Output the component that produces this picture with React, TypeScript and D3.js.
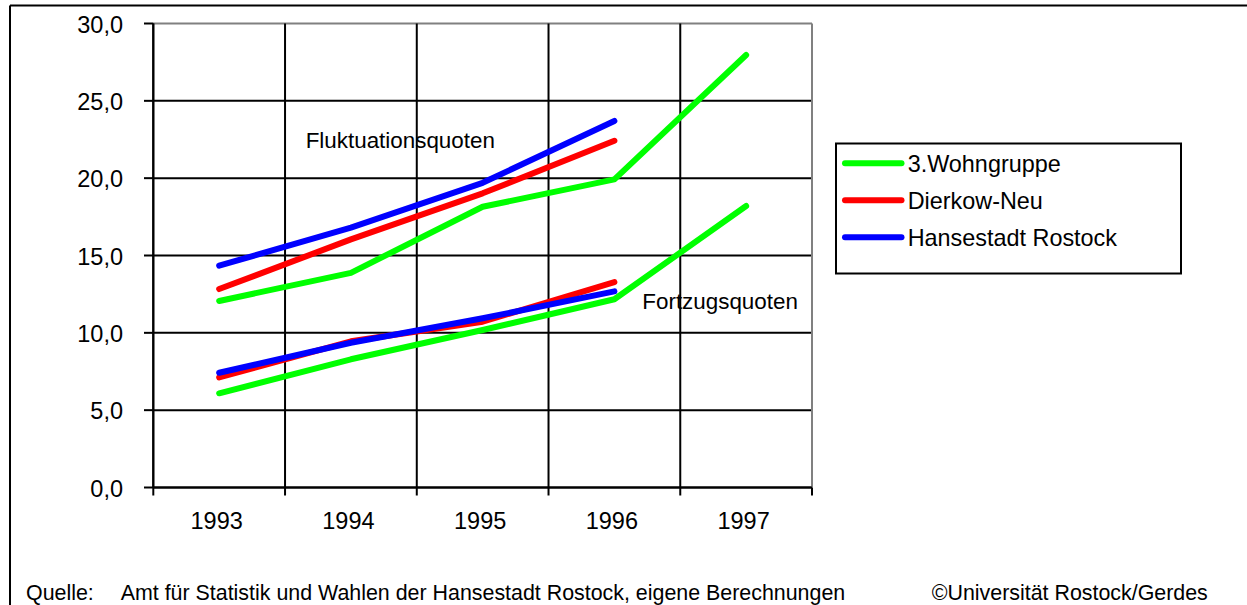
import React from "react";
import * as d3 from "d3";

const years = ["1993", "1994", "1995", "1996", "1997"];
const yTicks = [0, 5, 10, 15, 20, 25, 30];

const seriesNames = ["3.Wohngruppe", "Dierkow-Neu", "Hansestadt Rostock"];
const seriesColors = ["#00FF00", "#FF0000", "#0000FF"];

// Fluktuationsquoten
const fluktWohngruppe = [12.06, 13.88, 18.15, 19.92, 27.96];
const fluktDierkow = [12.83, 16.04, 19.02, 22.42];
const fluktRostock = [14.34, 16.8, 19.7, 23.7];

// Fortzugsquoten
const fortWohngruppe = [6.09, 8.29, 10.18, 12.17, 18.2];
const fortDierkow = [7.12, 9.45, 10.72, 13.28];
const fortRostock = [7.42, 9.36, 10.94, 12.68];

const FONT = "'Liberation Sans', Arial, sans-serif";

export default function App() {
  const left = 153.3;
  const right = 812;
  const top = 23.5;
  const bottom = 487.5;

  const x = d3.scaleBand<string>().domain(years).range([left, right]).padding(0);
  const y = d3.scaleLinear().domain([0, 30]).range([bottom, top]);
  const cx = (i: number) => (x(years[i]) as number) + x.bandwidth() / 2;

  const line = d3
    .line<number>()
    .x((_, i) => cx(i))
    .y((d) => y(d));

  const lines: { data: number[]; color: string }[] = [
    { data: fluktWohngruppe, color: seriesColors[0] },
    { data: fortWohngruppe, color: seriesColors[0] },
    { data: fluktDierkow, color: seriesColors[1] },
    { data: fortDierkow, color: seriesColors[1] },
    { data: fluktRostock, color: seriesColors[2] },
    { data: fortRostock, color: seriesColors[2] },
  ];

  const boundaries = years.map((yr) => x(yr) as number).concat([right]);

  return (
    <svg
      width={1247}
      height={605}
      style={{ position: "absolute", left: 0, top: 0, background: "#fff" }}
      fontFamily={FONT}
    >
      <rect x={0} y={0} width={1247} height={605} fill="#fff" />
      {/* outer frame */}
      <line x1={10} y1={5.5} x2={1247} y2={5.5} stroke="#000" strokeWidth={2} />
      <line x1={10} y1={5.5} x2={10} y2={605} stroke="#000" strokeWidth={2} />

      {/* horizontal grid */}
      {yTicks.map((t) => (
        <line
          key={"h" + t}
          x1={left}
          x2={right}
          y1={y(t)}
          y2={y(t)}
          stroke={t === 30 ? "#808080" : "#000"}
          strokeWidth={2}
        />
      ))}
      {/* vertical grid */}
      {boundaries.map((b, i) => (
        <line
          key={"v" + i}
          x1={b}
          x2={b}
          y1={top}
          y2={bottom}
          stroke={i === boundaries.length - 1 ? "#808080" : "#000"}
          strokeWidth={2}
        />
      ))}
      {/* axes */}
      <line x1={left} x2={left} y1={top} y2={bottom} stroke="#000" strokeWidth={2} />
      <line x1={left} x2={right} y1={bottom} y2={bottom} stroke="#000" strokeWidth={2} />
      {yTicks.map((t) => (
        <g key={"yt" + t}>
          <line x1={144} x2={left} y1={y(t)} y2={y(t)} stroke="#000" strokeWidth={2} />
          <text x={123} y={y(t) + 9} textAnchor="end" fontSize={23.5} fill="#000">
            {t.toFixed(1).replace(".", ",")}
          </text>
        </g>
      ))}
      {boundaries.map((b, i) => (
        <line key={"xt" + i} x1={b} x2={b} y1={bottom} y2={bottom + 8} stroke="#000" strokeWidth={2} />
      ))}
      {years.map((yr, i) => (
        <text key={"xl" + yr} x={cx(i) - 2.5} y={529} textAnchor="middle" fontSize={23.5} fill="#000">
          {yr}
        </text>
      ))}

      {/* series */}
      {lines.map((l, i) => (
        <path
          key={"s" + i}
          d={line(l.data) || ""}
          fill="none"
          stroke={l.color}
          strokeWidth={6}
          strokeLinecap="round"
          strokeLinejoin="round"
        />
      ))}

      {/* annotations */}
      <text x={305.7} y={147.5} fontSize={22.4} fill="#000">
        Fluktuationsquoten
      </text>
      <text x={642.3} y={309} fontSize={22.4} fill="#000">
        Fortzugsquoten
      </text>

      {/* legend */}
      <rect x={836} y={143.5} width={345} height={130} fill="#fff" stroke="#000" strokeWidth={2} />
      {seriesNames.map((n, i) => (
        <g key={"lg" + n}>
          <line
            x1={845}
            x2={901.5}
            y1={163.3 + i * 37}
            y2={163.3 + i * 37}
            stroke={seriesColors[i]}
            strokeWidth={6}
            strokeLinecap="round"
          />
          <text x={907.7} y={171.8 + i * 37} fontSize={23.4} fill="#000">
            {n}
          </text>
        </g>
      ))}

      {/* footer */}
      <text x={26} y={600} fontSize={21.4} fill="#000">
        Quelle:
      </text>
      <text x={120.7} y={600} fontSize={21.4} fill="#000">
        Amt für Statistik und Wahlen der Hansestadt Rostock, eigene Berechnungen
      </text>
      <text x={931.7} y={600} fontSize={21.4} fill="#000">
        ©Universität Rostock/Gerdes
      </text>
    </svg>
  );
}
